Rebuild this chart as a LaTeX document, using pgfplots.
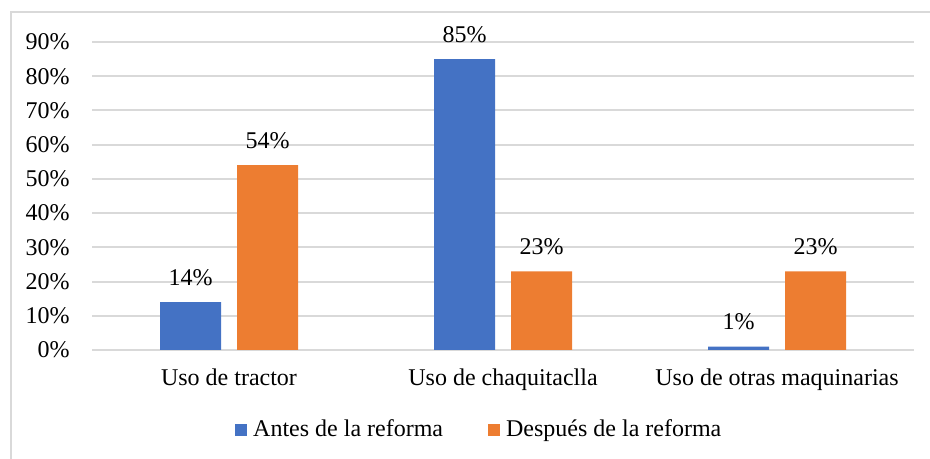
\documentclass[border=0pt]{standalone}
\usepackage{fontspec}
\setmainfont{Liberation Serif}
\usepackage{pgfplots}
\pgfplotsset{compat=1.18}
\definecolor{cblue}{HTML}{4472C4}
\definecolor{corange}{HTML}{ED7D31}
\definecolor{gridgray}{HTML}{D9D9D9}
\begin{document}
\begin{tikzpicture}[font=\fontsize{12pt}{14.4pt}\selectfont]
\path[use as bounding box] (0,0) rectangle (465pt,229.5pt);
\draw[gridgray, line width=1pt] (5.5pt,-1pt) -- (5.5pt,223.5pt) -- (466pt,223.5pt);
\begin{axis}[
 at={(46pt,54.5pt)}, anchor=south west,
 scale only axis, width=411pt, height=154pt,
 xmin=-0.5, xmax=2.5, ymin=0, ymax=90,
 xtick={0,1,2}, xticklabels={Uso de tractor, Uso de chaquitaclla, Uso de otras maquinarias},
 ytick={0,10,...,90},
 yticklabel={\pgfmathprintnumber{\tick}\%},
 /pgf/number format/assume math mode=true,
 major tick length=0pt,
 axis line style={draw=none},
 ymajorgrids, grid style={gridgray, line width=1pt},
 xticklabel style={anchor=base, inner sep=0pt, yshift=-18pt},
 yticklabel style={anchor=east, inner sep=0pt, xshift=-11pt},
 ybar, bar width=30.5pt,
 legend columns=2,
 legend style={draw=none, fill=none, at={(0.4736,-0.2597)}, anchor=center, /tikz/every even column/.append style={column sep=19.5pt}, nodes={inner xsep=3pt}},
 legend image code/.code={\fill[#1] (0pt,-3pt) rectangle (6pt,3pt);},
 nodes near coords={\pgfmathprintnumber{\pgfplotspointmeta}\%},
 every node near coord/.append style={anchor=base, yshift=8.5pt, inner sep=0pt, black},
]
\addplot[fill=cblue, draw=none, bar shift=-19.25pt] coordinates {(0,14) (1,85) (2,1)};
\addplot[fill=corange, draw=none, bar shift=19.25pt] coordinates {(0,54) (1,23) (2,23)};
\legend{Antes de la reforma, Después de la reforma}
\end{axis}
\end{tikzpicture}
\end{document}
